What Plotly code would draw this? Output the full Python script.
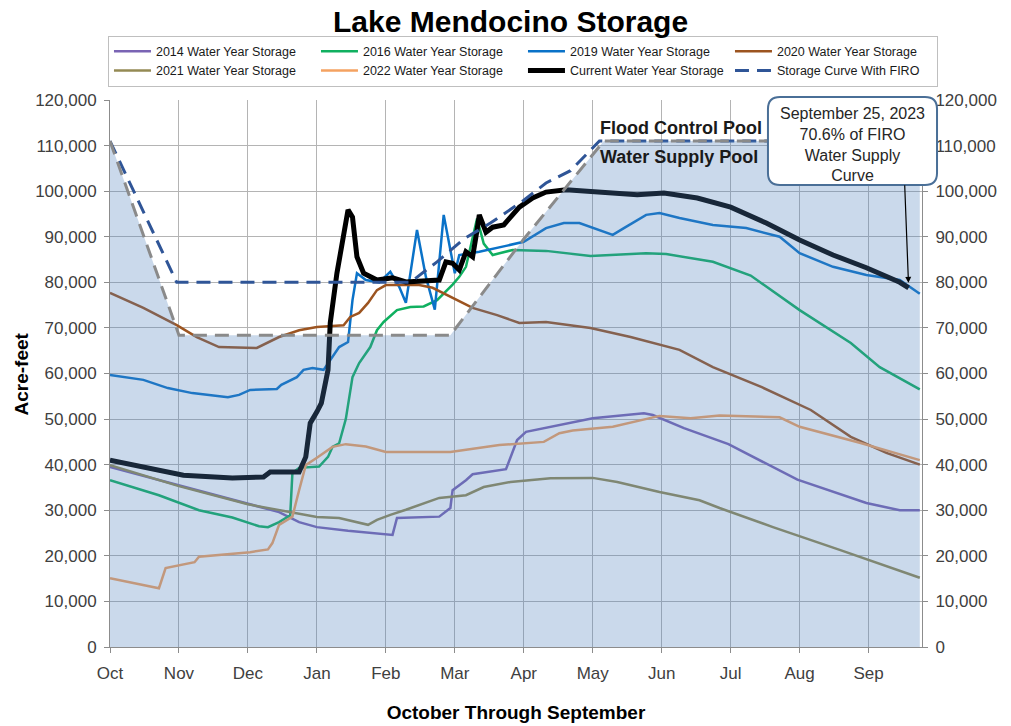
import plotly.graph_objects as go

# ---- x axis: day of water year (0 = Oct 1); chart ticks every 31 days ----
months = ["Oct", "Nov", "Dec", "Jan", "Feb", "Mar", "Apr", "May", "Jun", "Jul", "Aug", "Sep"]
tick_days = [0, 31, 62, 93, 124, 155, 186, 217, 248, 279, 310, 341]

# ---- series (day of water year, storage in thousand acre-feet) ----
d2014 = [0, 31, 62, 76, 85, 93, 107, 124, 127, 129, 148, 153, 154, 160, 163, 178, 180, 183, 187, 205,
         217, 240, 244, 258, 278, 309, 340, 355, 364]
v2014 = [39.5, 35.5, 31.5, 29.6, 27.4, 26.3, 25.5, 24.8, 24.6, 28.3, 28.6, 30.5, 34.4, 36.6, 37.9, 39.0,
         41.7, 45.4, 47.2, 49.1, 50.2, 51.3, 50.9, 48.0, 44.5, 36.7, 31.6, 30.0, 30.0]

d2016 = [0, 22, 40, 55, 67, 71, 76, 81, 82, 85, 94, 98, 100, 103, 106, 109, 112, 117, 120, 123,
         129, 135, 141, 147, 154, 157, 160, 163, 165, 168, 172, 181, 196, 216, 241, 250, 271, 288, 310, 333,
         346, 364]
v2016 = [36.6, 33.3, 30.0, 28.4, 26.5, 26.3, 27.4, 28.9, 38.2, 39.3, 39.6, 41.7, 43.9, 44.7, 50.0, 59.2,
         62.3, 65.8, 69.5, 71.3, 73.9, 74.6, 74.7, 76.1, 79.5, 81.2, 83.4, 90.0, 94.0, 88.5, 86.0, 87.1,
         86.9, 85.8, 86.4, 86.2, 84.5, 81.5, 73.9, 66.7, 61.4, 56.5]

d2019 = [0, 15, 26, 37, 53, 58, 63, 75, 77, 84, 87, 91, 96, 99, 103, 107, 108, 109, 111, 115,
         121, 126, 130, 133, 138, 142, 146, 150, 153, 155, 157, 166, 178, 186, 196, 204, 211, 226, 231, 241,
         247, 256, 271, 286, 301, 310, 325, 340, 355, 364]
v2019 = [59.7, 58.6, 56.8, 55.7, 54.8, 55.3, 56.4, 56.6, 57.5, 59.2, 60.8, 61.2, 60.8, 63.0, 65.8, 66.9,
         72.4, 76.1, 82.0, 80.5, 80.0, 82.3, 79.0, 75.5, 91.5, 81.2, 74.0, 94.8, 87.1, 82.0, 86.0, 86.7,
         88.0, 88.9, 91.9, 93.0, 93.0, 90.4, 91.9, 94.8, 95.2, 94.1, 92.6, 91.9, 90.0, 86.4, 83.4, 81.6,
         80.5, 77.5]

d2020 = [0, 15, 30, 39, 49, 66, 76, 85, 93, 105, 108, 112, 116, 120, 124, 139, 145, 154, 163, 174,
         184, 196, 216, 234, 256, 271, 293, 315, 333, 349, 364]
v2020 = [77.7, 74.4, 70.6, 68.0, 65.8, 65.6, 68.0, 69.5, 70.2, 70.6, 72.4, 73.3, 75.5, 78.3, 79.4, 79.4,
         78.8, 76.6, 74.4, 72.8, 71.1, 71.3, 70.0, 68.0, 65.2, 61.4, 57.0, 52.0, 46.1, 42.6, 40.0]

d2021 = [0, 31, 62, 93, 103, 116, 120, 126, 133, 139, 148, 160, 168, 180, 198, 217, 228, 247, 265, 274,
         298, 328, 364]
v2021 = [39.9, 35.3, 31.3, 28.5, 28.3, 26.8, 27.9, 29.0, 30.1, 31.2, 32.7, 33.3, 35.1, 36.2, 37.0, 37.1,
         36.2, 34.0, 32.2, 30.5, 26.3, 21.3, 15.2]

d2022 = [0, 21, 22, 25, 31, 38, 40, 63, 71, 73, 76, 80, 82, 85, 88, 93, 100, 106, 115, 124,
         153, 175, 195, 202, 208, 226, 247, 261, 274, 301, 310, 337, 364]
v2022 = [15.1, 12.9, 12.9, 17.3, 17.9, 18.6, 19.8, 20.8, 21.4, 22.8, 26.8, 27.9, 28.6, 34.4, 39.9, 41.5,
         43.9, 44.5, 44.0, 42.8, 42.8, 44.3, 45.0, 46.9, 47.5, 48.3, 50.7, 50.2, 50.8, 50.4, 48.3, 44.8,
         41.0]

dcur = [0, 15, 33, 55, 69, 72, 85, 88, 90, 93, 95, 98, 99, 102, 105, 107, 109, 111, 114, 120,
        127, 133, 148, 151, 154, 157, 160, 163, 165, 166, 169, 172, 177, 180, 184, 190, 196, 205, 226, 237,
        249, 264, 279, 295, 310, 325, 340, 355, 359]
vcur = [41.0, 39.5, 37.7, 37.1, 37.3, 38.4, 38.4, 41.7, 49.1, 51.6, 53.5, 60.8, 71.1, 82.0, 90.0, 95.9,
        94.3, 85.6, 82.0, 80.5, 81.0, 80.1, 80.5, 84.5, 84.2, 82.7, 86.7, 85.6, 91.5, 94.8, 91.0, 92.1,
        92.6, 94.3, 96.5, 98.5, 99.8, 100.3, 99.6, 99.2, 99.6, 98.5, 96.5, 93.0, 89.3, 86.0, 83.2, 80.0,
        78.8]

dfiro = [0, 30, 135, 147, 159, 171, 186, 196, 207, 220, 364]
vfiro = [111.0, 80.0, 80.0, 84.5, 89.5, 93.0, 98.0, 101.8, 104.5, 111.0, 111.0]

dws = [0, 31, 153, 186, 222, 364]
vws = [111.0, 68.4, 68.4, 89.5, 111.0, 111.0]

FONT = "Liberation Sans, Arial, sans-serif"

fig = go.Figure()


def add(name, days, vals, color, width, dash=None, showlegend=True, yaxis="y"):
    fig.add_trace(go.Scatter(
        x=days, y=[v * 1000 for v in vals], mode="lines", name=name,
        line=dict(color=color, width=width, dash=dash), showlegend=showlegend,
        yaxis=yaxis, hoverinfo="skip"))


add("2014 Water Year Storage", d2014, v2014, "#7a64b4", 2.5)
add("2016 Water Year Storage", d2016, v2016, "#10b060", 2.5)
add("2019 Water Year Storage", d2019, v2019, "#0a72c8", 2.5)
add("2020 Water Year Storage", d2020, v2020, "#9c5420", 2.5)
add("2021 Water Year Storage", d2021, v2021, "#948a54", 2.5)
add("2022 Water Year Storage", d2022, v2022, "#f4a261", 2.5)
add("Current Water Year Storage", dcur, vcur, "#000000", 5)
add("Storage Curve With FIRO", dfiro, vfiro, "#2f5597", 3, dash="14px,8px")

# water supply curve with translucent fill drawn on top of the series
fig.add_trace(go.Scatter(
    x=dws, y=[v * 1000 for v in vws], mode="lines", name="Water Supply Curve",
    line=dict(color="#8a8a8a", width=3, dash="14px,8px"), fill="tozeroy",
    fillcolor="rgba(79,129,189,0.30)", showlegend=False, yaxis="y2", hoverinfo="skip"))

axis_common = dict(
    showline=True, linecolor="#8c8c8c", linewidth=1, ticks="outside", ticklen=5,
    tickcolor="#8c8c8c", tickfont=dict(family=FONT, size=17, color="#404040"), zeroline=False,
    automargin=False,
)

fig.update_layout(
    width=1011, height=726,
    margin=dict(l=110, r=89, t=100, b=79),
    paper_bgcolor="white", plot_bgcolor="white",
    title=dict(text="<b>Lake Mendocino Storage</b>", x=0.505, xanchor="center",
               y=1 - 21 / 726, yanchor="middle", font=dict(family=FONT, size=30, color="#000000")),
    xaxis=dict(range=[0, 365], tickvals=tick_days, ticktext=months, showgrid=True,
               gridcolor="#b4b4b4", gridwidth=1, ticklabelstandoff=6,
               title=dict(text="<b>October Through September</b>", standoff=23,
                          font=dict(family=FONT, size=19, color="#000000")),
               **axis_common),
    yaxis=dict(range=[0, 120000], dtick=10000, tickformat=",", showgrid=True,
               gridcolor="#b4b4b4", gridwidth=1, ticklabelstandoff=4,
               **axis_common),
    yaxis2=dict(range=[0, 120000], dtick=10000, tickformat=",", overlaying="y", side="right",
                showgrid=False, ticklabelstandoff=4, **axis_common),
    legend=dict(orientation="h", x=-0.0025, y=1.1175, xanchor="left", yanchor="top",
                bordercolor="#bfbfbf", borderwidth=1, bgcolor="white",
                font=dict(family=FONT, size=12.5, color="#1a1a1a"),
                entrywidth=155, entrywidthmode="pixels", itemwidth=37, tracegroupgap=0),
    showlegend=True,
)

# y-axis title
fig.add_annotation(text="<b>Acre-feet</b>", xref="paper", yref="paper", x=-0.1084, y=0.5,
                   textangle=-90, xanchor="center", yanchor="middle", showarrow=False,
                   font=dict(family=FONT, size=19, color="#000000"))

# pool labels
fig.add_annotation(text="<b>Flood Control Pool</b>", xref="paper", yref="paper", x=0.601, y=0.949,
                   xanchor="left", yanchor="middle", showarrow=False,
                   font=dict(family=FONT, size=18, color="#1a1a1a"))
fig.add_annotation(text="<b>Water Supply Pool</b>", xref="paper", yref="paper", x=0.601, y=0.896,
                   xanchor="left", yanchor="middle", showarrow=False,
                   font=dict(family=FONT, size=18, color="#1a1a1a"))

# callout box (rounded rectangle)
x0, x1, y0, y1 = 0.8103, 1.0185, 0.8446, 1.0055
rx, ry = 0.0148, 0.0219
path = (f"M {x0+rx},{y1} L {x1-rx},{y1} Q {x1},{y1} {x1},{y1-ry} L {x1},{y0+ry} "
        f"Q {x1},{y0} {x1-rx},{y0} L {x0+rx},{y0} Q {x0},{y0} {x0},{y0+ry} "
        f"L {x0},{y1-ry} Q {x0},{y1} {x0+rx},{y1} Z")
fig.add_shape(type="path", path=path, xref="paper", yref="paper",
              fillcolor="white", line=dict(color="#4a6f97", width=2), layer="above")
fig.add_annotation(text="September 25, 2023<br>70.6% of FIRO<br>Water Supply<br>Curve",
                   xref="paper", yref="paper", x=(x0 + x1) / 2, y=(y0 + y1) / 2 - 0.0055,
                   xanchor="center", yanchor="middle", showarrow=False, align="center",
                   font=dict(family=FONT, size=16, color="#262626"))
# arrow to the latest value
fig.add_annotation(text="", x=dcur[-1], y=vcur[-1] * 1000, xref="x", yref="y",
                   ax=-4, ay=-104, axref="pixel", ayref="pixel", showarrow=True,
                   arrowhead=2, arrowsize=1, arrowwidth=1.2, arrowcolor="#000000", standoff=5)

fig.write_html("out.html", config={"displayModeBar": False},
               post_script="document.body.style.margin='0px';")
